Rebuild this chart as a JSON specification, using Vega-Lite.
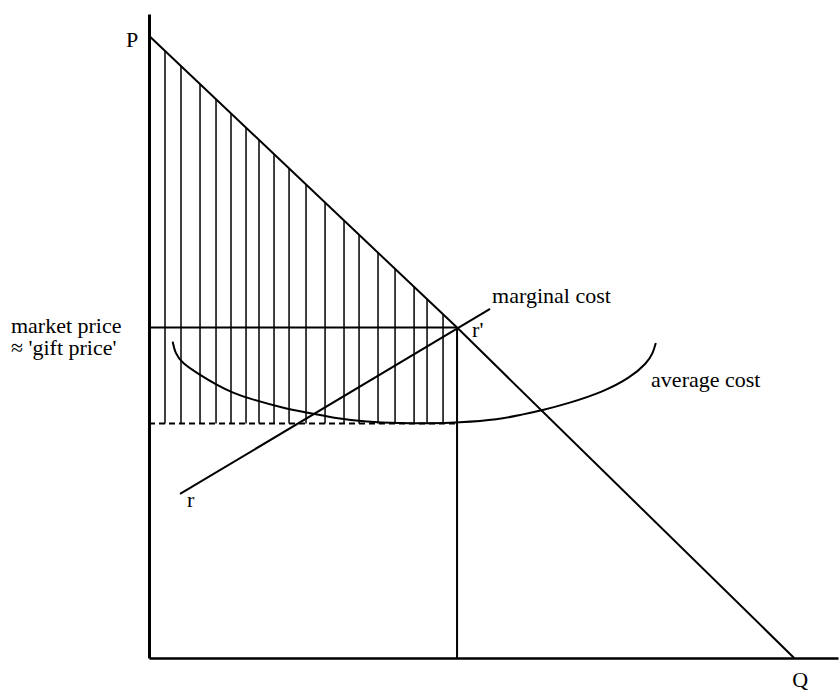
{
  "$schema": "https://vega.github.io/schema/vega-lite/v6.json",
  "width": 689,
  "height": 644,
  "autosize": {"type": "none"},
  "padding": {"left": 149, "top": 14, "right": 2, "bottom": 33},
  "background": "white",
  "config": {"view": {"stroke": null}, "text": {"font": "Liberation Serif", "fontSize": 22, "color": "black"}},
  "datasets": {
    "demand": [
      {"q": 0, "p": 100},
      {"q": 47.75, "p": 53.1},
      {"q": 100, "p": 0}
    ],
    "mc": [
      {"q": 4.81, "p": 26.37},
      {"q": 52.87, "p": 56.11}
    ],
    "ac": [
      {"q": 3.67, "p": 50.85},
      {"q": 4.03, "p": 49.04},
      {"q": 5.07, "p": 47.43},
      {"q": 7.91, "p": 45.5},
      {"q": 10.5, "p": 43.89},
      {"q": 13.02, "p": 42.6},
      {"q": 15.66, "p": 41.64},
      {"q": 20.78, "p": 40.19},
      {"q": 24.45, "p": 39.44},
      {"q": 28.53, "p": 38.59},
      {"q": 33.8, "p": 37.94},
      {"q": 38.91, "p": 37.73},
      {"q": 43.57, "p": 37.7},
      {"q": 47.75, "p": 37.83},
      {"q": 54.42, "p": 38.35},
      {"q": 57.52, "p": 39.07},
      {"q": 60.62, "p": 39.71},
      {"q": 65.27, "p": 41.0},
      {"q": 70.39, "p": 42.77},
      {"q": 74.57, "p": 45.02},
      {"q": 77.21, "p": 47.43},
      {"q": 78.14, "p": 49.04},
      {"q": 78.56, "p": 50.64}
    ],
    "hatch": [
      {"q": 2.48, "low": 37.7, "high": 97.56},
      {"q": 4.96, "low": 37.7, "high": 95.13},
      {"q": 7.91, "low": 37.7, "high": 92.23},
      {"q": 10.39, "low": 37.7, "high": 89.8},
      {"q": 12.71, "low": 37.7, "high": 87.52},
      {"q": 15.04, "low": 37.7, "high": 85.23},
      {"q": 17.05, "low": 37.7, "high": 83.26},
      {"q": 19.38, "low": 37.7, "high": 80.97},
      {"q": 21.71, "low": 37.7, "high": 78.68},
      {"q": 24.34, "low": 37.7, "high": 76.1},
      {"q": 27.29, "low": 37.7, "high": 73.2},
      {"q": 30.23, "low": 37.7, "high": 70.31},
      {"q": 32.56, "low": 37.7, "high": 68.03},
      {"q": 35.5, "low": 37.7, "high": 65.14},
      {"q": 38.14, "low": 37.7, "high": 62.55},
      {"q": 41.09, "low": 37.7, "high": 59.65},
      {"q": 43.1, "low": 37.7, "high": 57.68},
      {"q": 45.58, "low": 37.7, "high": 55.24}
    ],
    "price": [
      {"q0": 0, "q1": 47.75, "p": 53.1}
    ],
    "qty": [
      {"q": 47.75, "p0": 0, "p1": 53.1}
    ],
    "avgmin": [
      {"q0": 0, "q1": 47.75, "p": 37.7}
    ],
    "labels": [
      {"label": "P", "q": -3.57, "p": 98.2},
      {"label": "Q", "q": 99.69, "p": -4.6},
      {"label": "market price", "q": -21.4, "p": 52.25},
      {"label": "≈ 'gift price'", "q": -21.4, "p": 48.71},
      {"label": "marginal cost", "q": 53.18, "p": 57.07},
      {"label": "average cost", "q": 77.83, "p": 43.57},
      {"label": "r'", "q": 50.08, "p": 51.61},
      {"label": "r", "q": 5.89, "p": 24.28}
    ]
  },
  "layer": [
    {
      "data": {"name": "hatch"},
      "mark": {"type": "rule", "color": "black", "strokeWidth": 1.5},
      "encoding": {
        "x": {"field": "q", "type": "quantitative", "scale": {"domain": [0, 106.8], "nice": false, "zero": false},
              "axis": {"labels": false, "ticks": false, "title": null, "grid": false, "domainColor": "black", "domainWidth": 2.5}},
        "y": {"field": "low", "type": "quantitative", "scale": {"domain": [0, 103.5], "nice": false, "zero": false},
              "axis": {"labels": false, "ticks": false, "title": null, "grid": false, "domainColor": "black", "domainWidth": 3}},
        "y2": {"field": "high"}
      }
    },
    {
      "data": {"name": "price"},
      "mark": {"type": "rule", "color": "black", "strokeWidth": 2},
      "encoding": {
        "x": {"field": "q0", "type": "quantitative"},
        "x2": {"field": "q1"},
        "y": {"field": "p", "type": "quantitative"}
      }
    },
    {
      "data": {"name": "qty"},
      "mark": {"type": "rule", "color": "black", "strokeWidth": 2},
      "encoding": {
        "x": {"field": "q", "type": "quantitative"},
        "y": {"field": "p0", "type": "quantitative"},
        "y2": {"field": "p1"}
      }
    },
    {
      "data": {"name": "avgmin"},
      "mark": {"type": "rule", "color": "black", "strokeWidth": 2, "strokeDash": [6, 4]},
      "encoding": {
        "x": {"field": "q0", "type": "quantitative"},
        "x2": {"field": "q1"},
        "y": {"field": "p", "type": "quantitative"}
      }
    },
    {
      "data": {"name": "demand"},
      "mark": {"type": "line", "color": "black", "strokeWidth": 2},
      "encoding": {
        "x": {"field": "q", "type": "quantitative"},
        "y": {"field": "p", "type": "quantitative"}
      }
    },
    {
      "data": {"name": "mc"},
      "mark": {"type": "line", "color": "black", "strokeWidth": 2},
      "encoding": {
        "x": {"field": "q", "type": "quantitative"},
        "y": {"field": "p", "type": "quantitative"}
      }
    },
    {
      "data": {"name": "ac"},
      "mark": {"type": "line", "color": "black", "strokeWidth": 2, "interpolate": "basis"},
      "encoding": {
        "x": {"field": "q", "type": "quantitative"},
        "y": {"field": "p", "type": "quantitative"}
      }
    },
    {
      "data": {"name": "labels"},
      "mark": {"type": "text", "align": "left", "baseline": "alphabetic", "font": "Liberation Serif", "fontSize": 22, "color": "black"},
      "encoding": {
        "x": {"field": "q", "type": "quantitative"},
        "y": {"field": "p", "type": "quantitative"},
        "text": {"field": "label", "type": "nominal"}
      }
    }
  ]
}
